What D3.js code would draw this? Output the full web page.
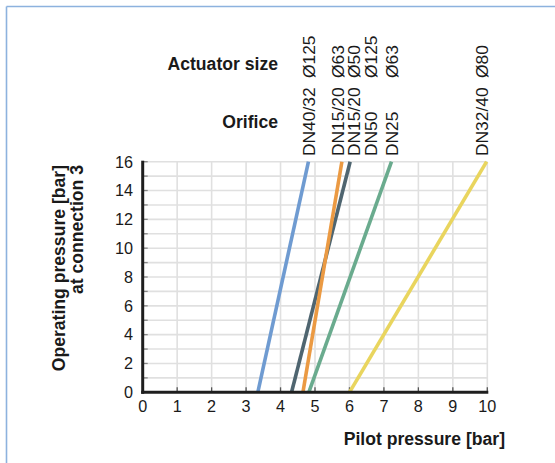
<!DOCTYPE html>
<html>
<head>
<meta charset="utf-8">
<script src="https://cdn.jsdelivr.net/npm/d3@7"></script>
<style>
  html, body { margin: 0; padding: 0; background: #fff; }
  svg { display: block; }
  text { font-family: "Liberation Sans", Arial, Helvetica, sans-serif; fill: #1a1a1a; }
</style>
</head>
<body>
<svg id="chart" width="555" height="463"></svg>
<script>
// ---- data ----
const seriesNames = ["DN40/32 Ø125", "DN15/20 Ø50", "DN15/20 Ø63", "DN25 Ø63", "DN32/40 Ø80"];
const seriesColors = ["#6f9bd1", "#4f6570", "#eb9a43", "#6aab8e", "#e9d55e"];
// pilot pressure at operating pressure 0 and 16
const pilotAt0  = [3.34, 4.32, 4.65, 4.82, 6.0];
const pilotAt16 = [4.81, 6.02, 5.78, 7.22, 9.98];
const opLevels = [0, 16];

const orificeLabels  = ["DN40/32", "DN15/20", "DN15/20", "DN50", "DN25", "DN32/40"];
const actuatorLabels = ["Ø125", "Ø63", "Ø50", "Ø125", "Ø63", "Ø80"];
const labelPilot     = [4.80, 5.64, 6.13, 6.60, 7.23, 9.83];

const xTicks = [0,1,2,3,4,5,6,7,8,9,10];
const yTicks = [0,2,4,6,8,10,12,14,16];
const yGrid  = d3.range(0, 17, 1);

// ---- layout ----
const svg = d3.select("#chart");
const x = d3.scaleLinear().domain([0, 10]).range([142.7, 487.3]);
const y = d3.scaleLinear().domain([0, 16]).range([392.3, 161.7]);

// frame
svg.append("line").attr("x1", 6.5).attr("x2", 555).attr("y1", 6.5).attr("y2", 6.5)
  .attr("stroke", "#8db2de").attr("stroke-width", 1.6);
svg.append("line").attr("x1", 6.5).attr("x2", 6.5).attr("y1", 6.5).attr("y2", 463)
  .attr("stroke", "#8db2de").attr("stroke-width", 1.6);

// grid
const grid = svg.append("g");
grid.selectAll(".vg").data(xTicks.slice(1)).enter().append("line")
  .attr("x1", d => x(d)).attr("x2", d => x(d))
  .attr("y1", y(16)).attr("y2", y(0))
  .attr("stroke", "#e0e0e0").attr("stroke-width", 1.6);
grid.selectAll(".hg").data(yGrid.slice(1)).enter().append("line")
  .attr("x1", x(0)).attr("x2", x(10))
  .attr("y1", d => y(d)).attr("y2", d => y(d))
  .attr("stroke", "#e0e0e0").attr("stroke-width", 1.6);

// small ticks
grid.selectAll(".xt").data(xTicks.slice(1)).enter().append("line")
  .attr("x1", d => x(d)).attr("x2", d => x(d))
  .attr("y1", y(0)).attr("y2", y(0) - 5)
  .attr("stroke", "#555").attr("stroke-width", 1.3);
grid.selectAll(".yt").data(yGrid.slice(1)).enter().append("line")
  .attr("x1", x(0)).attr("x2", x(0) + 5)
  .attr("y1", d => y(d)).attr("y2", d => y(d))
  .attr("stroke", "#888").attr("stroke-width", 1.3);

// series lines
const lineGen = d3.line().x(d => x(d[0])).y(d => y(d[1]));
seriesNames.forEach((name, i) => {
  const pts = [[pilotAt0[i], opLevels[0]], [pilotAt16[i], opLevels[1]]];
  svg.append("path").datum(pts)
    .attr("d", lineGen)
    .attr("fill", "none")
    .attr("stroke", seriesColors[i])
    .attr("stroke-width", 3.6);
});

// axes lines
svg.append("line").attr("x1", x(0)).attr("x2", x(0)).attr("y1", y(16) - 1).attr("y2", y(0) + 1.5)
  .attr("stroke", "#1e1e1e").attr("stroke-width", 3);
svg.append("line").attr("x1", x(0) - 1.5).attr("x2", x(10) + 1).attr("y1", y(0)).attr("y2", y(0))
  .attr("stroke", "#1e1e1e").attr("stroke-width", 3);

// tick labels
svg.selectAll(".xl").data(xTicks).enter().append("text")
  .attr("x", d => x(d)).attr("y", 411.5)
  .attr("text-anchor", "middle").attr("font-size", 16.2)
  .text(d => d);
svg.selectAll(".yl").data(yTicks).enter().append("text")
  .attr("x", 133).attr("y", d => y(d) + 5.8)
  .attr("text-anchor", "end").attr("font-size", 16.2)
  .text(d => d);

// axis titles
svg.append("text").attr("x", 505).attr("y", 445)
  .attr("text-anchor", "end").attr("font-size", 17.6).attr("font-weight", "bold")
  .text("Pilot pressure [bar]");
svg.append("text").attr("transform", "translate(65,165) rotate(-90)")
  .attr("text-anchor", "end").attr("font-size", 17.6).attr("font-weight", "bold")
  .text("Operating pressure [bar]");
svg.append("text").attr("transform", "translate(83,165) rotate(-90)")
  .attr("text-anchor", "end").attr("font-size", 17.6).attr("font-weight", "bold")
  .text("at connection 3");

// header labels
svg.append("text").attr("x", 278).attr("y", 69.5)
  .attr("text-anchor", "end").attr("font-size", 17.6).attr("font-weight", "bold")
  .text("Actuator size");
svg.append("text").attr("x", 278).attr("y", 127.5)
  .attr("text-anchor", "end").attr("font-size", 17.6).attr("font-weight", "bold")
  .text("Orifice");

// rotated labels
labelPilot.forEach((p, i) => {
  const bx = x(p) + 6.5;
  svg.append("text").attr("transform", `translate(${bx},156) rotate(-90)`)
    .attr("text-anchor", "start").attr("font-size", 17.4)
    .text(orificeLabels[i]);
  svg.append("text").attr("transform", `translate(${bx},78) rotate(-90)`)
    .attr("text-anchor", "start").attr("font-size", 17.4)
    .text(actuatorLabels[i]);
});
</script>
</body>
</html>
